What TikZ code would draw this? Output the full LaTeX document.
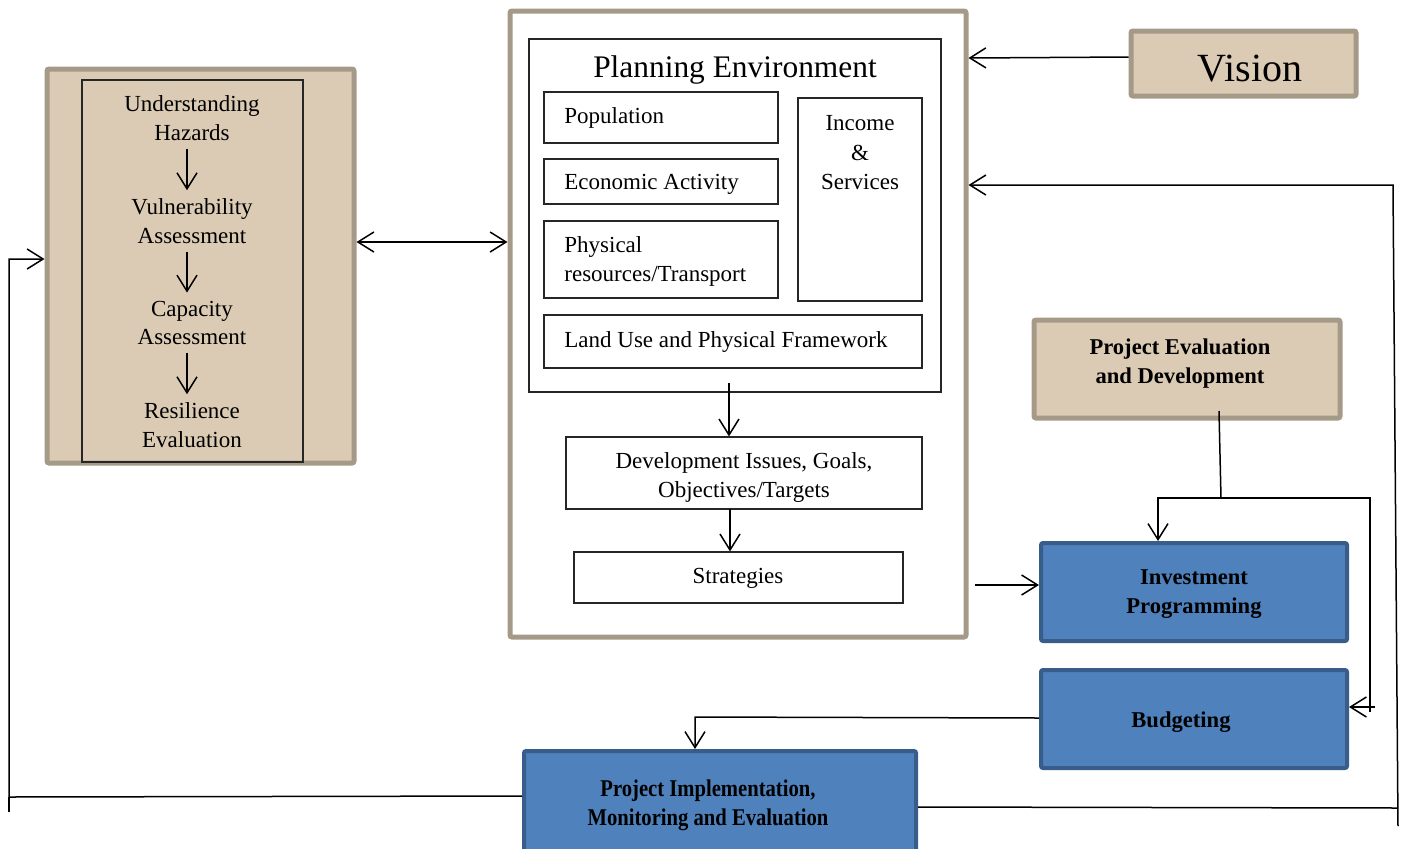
\documentclass[tikz,border=0pt]{standalone}
\usepackage{fontspec}
\setmainfont{Liberation Serif}
\usetikzlibrary{arrows.meta,calc,fit}
\definecolor{tanfill}{RGB}{220,203,180}
\definecolor{tanedge}{RGB}{165,153,135}
\definecolor{bluefill}{RGB}{79,129,189}
\definecolor{blueedge}{RGB}{56,93,138}
\begin{document}
\begin{tikzpicture}[x=0.5pt,y=-0.5pt,
  >={Straight Barb[length=8pt,width=10pt]},
  every node/.style={font=\fontsize{11.5}{14.3}\selectfont, inner sep=0pt},
  tanbox/.style={draw=tanedge, line width=2.5pt, fill=tanfill, rounded corners=1pt},
  bluebox/.style={draw=blueedge, line width=2pt, fill=bluefill, rounded corners=1pt},
  framebox/.style={draw=tanedge, line width=2.5pt, fill=white, rounded corners=1pt},
  thinbox/.style={draw=black!85, line width=0.6pt},
  lower/.style={yshift=-1.3pt},
  txt/.style={align=center, lower},
  ltxt/.style={align=left, anchor=west, lower},
  btxt/.style={align=center, lower, font=\fontsize{11.3}{14.5}\selectfont\bfseries},
  stack/.style={align=center, inner ysep=4pt, yshift=-0.5pt},
  conn/.style={line width=0.75pt, ->},
  link/.style={line width=0.75pt},
]
\clip (0,0) rectangle (1405,848);

% ---- hazard / resilience column ----
\node[tanbox, fit={(47,69)(354,463)}] (left) {};
\node[thinbox, fit={(82,80)(303,462)}] (leftin) {};
\node[stack] (lh1) at (192,117) {Understanding\\Hazards};
\node[stack] (lh2) at (192,220) {Vulnerability\\Assessment};
\node[stack] (lh3) at (192,322) {Capacity\\Assessment};
\node[stack] (lh4) at (192,424) {Resilience\\Evaluation};
\draw[conn] (lh1.south -| 187,0) -- (lh2.north -| 187,0);
\draw[conn] (lh2.south -| 187,0) -- (lh3.north -| 187,0);
\draw[conn] (lh3.south -| 187,0) -- (lh4.north -| 187,0);

% ---- planning frame ----
\node[framebox, fit={(510,11)(966,637)}] (main) {};
\node[thinbox, fit={(529,39)(941,392)}] (pe) {};
\node[lower, font=\fontsize{15.7}{19}\selectfont] (petitle) at (735,67) {Planning Environment};
\node[thinbox, fit={(544,92)(778,143)}] (pop) {};
\node[ltxt] (poptxt) at (564,115) {Population};
\node[thinbox, fit={(544,159)(778,204)}] (eco) {};
\node[ltxt] (ecotxt) at (564,182) {Economic Activity};
\node[thinbox, fit={(544,221)(778,298)}] (phy) {};
\node[ltxt] (phytxt) at (564,259) {Physical\\resources/Transport};
\node[thinbox, fit={(798,98)(922,301)}] (inc) {};
\node[txt, font=\fontsize{11.5}{14.8}\selectfont] (inctxt) at (860,150) {Income\\\&\\Services};
\node[thinbox, fit={(544,315)(922,368)}] (land) {};
\node[ltxt] (landtxt) at (564,339) {Land Use and Physical Framework};
\node[thinbox, fit={(566,437)(922,509)}] (dev) {};
\node[txt] (devtxt) at (744,475) {Development Issues, Goals,\\Objectives/Targets};
\node[thinbox, fit={(574,552)(903,603)}] (strat) {};
\node[txt] (strattxt) at (738,576) {Strategies};
\draw[conn] (729,383) -- (dev.north -| 729,0);
\draw[conn] (730,509) -- (strat.north -| 730,0);

% ---- right-hand boxes ----
\node[tanbox, fit={(1131,31)(1356,96)}] (vision) {};
\node[lower, font=\fontsize{20}{24}\selectfont] (visiontxt) at (1250,66) {Vision};
\node[tanbox, fit={(1034,320)(1340,418)}] (ped) {};
\node[btxt] (pedtxt) at (1180,361) {Project Evaluation\\and Development};
\node[bluebox, fit={(1041,543)(1347,641)}] (inv) {};
\node[btxt] (invtxt) at (1194,591) {Investment\\Programming};
\node[bluebox, fit={(1041,670)(1347,768)}] (budg) {};
\node[btxt] (budgtxt) at (1181,720) {Budgeting};
\node[bluebox, fit={(524,751)(916,870)}] (pime) {};
\node[btxt, font=\fontsize{12}{14.5}\selectfont\bfseries] (pimetxt) at (708,803) {\scalebox{0.86}[1]{Project Implementation,}\\\scalebox{0.86}[1]{Monitoring and Evaluation}};

% ---- connectors ----
\draw[<->, line width=0.75pt] (left.east |- 0,242) -- (main.west |- 0,242);
\draw[conn] (vision.west |- 0,57) -- (main.east |- 0,58);
\draw[conn] (975,585) -- (inv.west |- 0,585);
\draw[link] (1219,411) -- (1221,498);
\draw[conn] (1370,712) -- (1370,498) -- (1158,498) -- (inv.north -| 1158,0);
\draw[conn] (1375,707) -- (budg.east |- 0,707);
\draw[conn] (budg.west |- 0,718) -- (695,717) -- (pime.north -| 695,0);
\draw[link] (pime.east |- 0,807) -- (1398,808);
\draw[conn] (1398,826) -- (1393,185) -- (main.east |- 0,185);
\draw[conn] (pime.west |- 0,796) -- (9,797) -- (9,259) -- (left.west |- 0,259);
\draw[link] (9,797) -- (9,812);
\end{tikzpicture}
\end{document}
